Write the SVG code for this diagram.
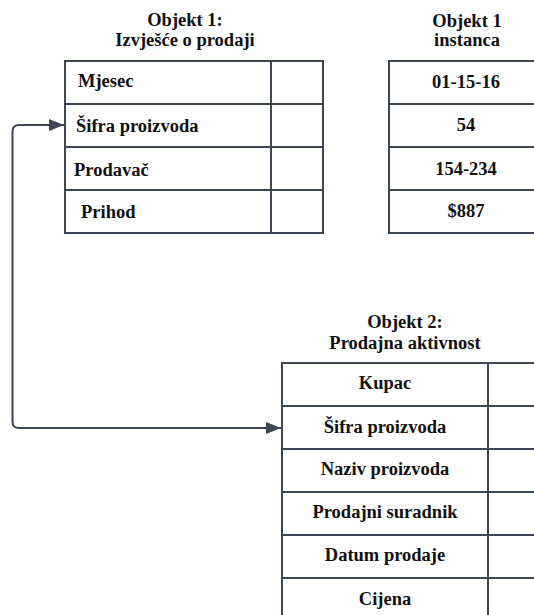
<svg xmlns="http://www.w3.org/2000/svg" width="534" height="615" viewBox="0 0 534 615">
<style>
.box{fill:#fff;stroke:#3d4753;stroke-width:2}
.ln{stroke:#3d4753;stroke-width:2;fill:none}
.c{text-anchor:middle}
.conn{stroke:#3d4753;stroke-width:2;fill:none}
</style>
<defs>
<marker id="ah" viewBox="0 0 15 12" refX="15" refY="6" markerWidth="15" markerHeight="12" markerUnits="userSpaceOnUse" orient="auto-start-reverse">
<path d="M0,0 L15,6 L0,12 z" fill="#3d4753"/>
</marker>
</defs>
<rect width="534" height="615" fill="#fff"/>
<g font-family="'Liberation Serif', 'Times New Roman', serif" font-weight="bold" font-size="18.5" fill="#111">
<g id="objekt1">
<text class="c" x="185" y="26">Objekt 1:</text>
<text class="c" x="185" y="46">Izvješće o prodaji</text>
<rect class="box" x="65" y="61" width="258" height="172"/>
<path class="ln" d="M271,61V233M65,104H323M65,147H323M65,190H323"/>
<text x="78" y="87">Mjesec</text>
<text x="76" y="132">Šifra proizvoda</text>
<text x="74" y="176">Prodavač</text>
<text x="81" y="218">Prihod</text>
</g>
<g id="instanca">
<text class="c" x="467" y="27">Objekt 1</text>
<text class="c" x="467" y="46">instanca</text>
<rect class="box" x="389" y="61" width="160" height="172"/>
<path class="ln" d="M389,104H534M389,147H534M389,190H534"/>
<text class="c" x="466" y="88">01-15-16</text>
<text class="c" x="466" y="131">54</text>
<text class="c" x="466" y="175">154-234</text>
<text class="c" x="466" y="217">$887</text>
</g>
<g id="objekt2">
<text class="c" x="405" y="328">Objekt 2:</text>
<text class="c" x="405" y="349">Prodajna aktivnost</text>
<rect class="box" x="282" y="363" width="270" height="270"/>
<path class="ln" d="M488,363V615M282,406H534M282,449H534M282,492H534M282,535H534M282,578H534"/>
<text class="c" x="385" y="389">Kupac</text>
<text class="c" x="385" y="433">Šifra proizvoda</text>
<text class="c" x="385" y="475">Naziv proizvoda</text>
<text class="c" x="385" y="518">Prodajni suradnik</text>
<text class="c" x="385" y="561">Datum prodaje</text>
<text class="c" x="385" y="605">Cijena</text>
</g>
</g>
<g id="connectors">
<path class="conn" d="M281,428H19Q12.5,428 12.5,421.5V131.5Q12.5,125 19,125H64" marker-start="url(#ah)" marker-end="url(#ah)"/>
</g>
</svg>
